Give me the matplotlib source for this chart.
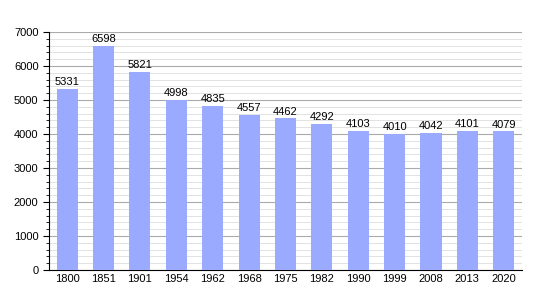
import matplotlib.pyplot as plt
from matplotlib.ticker import MultipleLocator

plt.rcParams['font.family'] = ['Liberation Sans', 'DejaVu Sans']

years = ['1800', '1851', '1901', '1954', '1962', '1968', '1975',
         '1982', '1990', '1999', '2008', '2013', '2020']
population = [5331, 6598, 5821, 4998, 4835, 4557, 4462,
              4292, 4103, 4010, 4042, 4101, 4079]

fig = plt.figure(figsize=(5.5, 3), dpi=100)
ax = fig.add_axes([0.089, 0.1, 0.86, 0.793])

x = range(len(years))
ax.bar(x, population, width=0.58, color='#99aaff', zorder=3)

for i, v in zip(x, population):
    ax.text(i, v + 50, str(v), ha='center', va='bottom', fontsize=8, zorder=4)

ax.set_xlim(-0.5, len(years) - 0.5)
ax.set_ylim(0, 7000)
ax.set_xticks(list(x))
ax.set_xticklabels(years)
ax.yaxis.set_major_locator(MultipleLocator(1000))
ax.yaxis.set_minor_locator(MultipleLocator(200))
ax.grid(axis='y', which='major', color='#aaaaaa', linewidth=0.8, zorder=0)
ax.grid(axis='y', which='minor', color='#dddddd', linewidth=0.6, zorder=0)

ax.spines['top'].set_visible(False)
ax.spines['right'].set_visible(False)
ax.tick_params(axis='x', length=0, labelsize=8, pad=3)
ax.tick_params(axis='y', which='major', length=4, labelsize=8)
ax.tick_params(axis='y', which='minor', length=2.5)

fig.savefig('out.png', dpi=100)
